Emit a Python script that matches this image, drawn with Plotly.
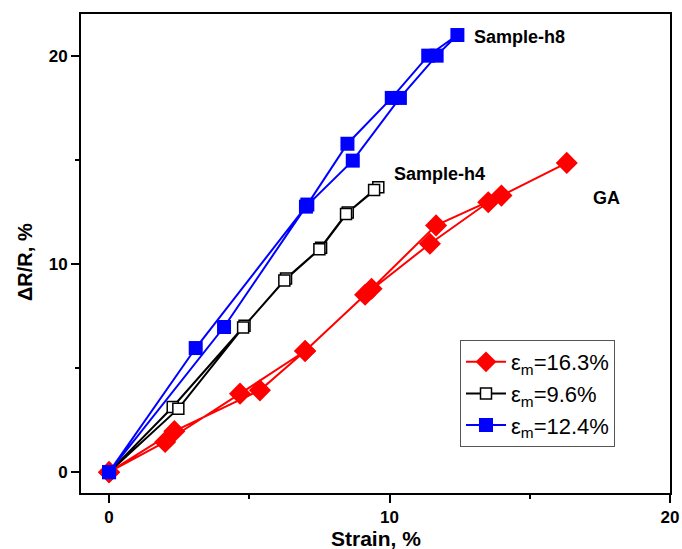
import plotly.graph_objects as go

# Red: GA, eps_m = 16.3 %
strain_red = [0, 2.0, 4.67, 6.99, 9.13, 11.44, 13.52, 16.32, 13.99, 11.66, 9.36, 6.99, 5.38, 2.33, 0]
dr_red = [0, 1.45, 3.77, 5.82, 8.52, 10.97, 12.96, 14.85, 13.28, 11.85, 8.81, 5.82, 3.93, 1.97, 0]

# Black: Sample-h4, eps_m = 9.6 %
strain_black = [0, 2.27, 4.83, 6.31, 7.56, 8.51, 9.6, 9.45, 8.45, 7.5, 6.25, 4.78, 2.47, 0]
dr_black = [0, 3.13, 7.03, 9.3, 10.78, 12.47, 13.68, 13.55, 12.4, 10.7, 9.2, 6.95, 3.05, 0]

# Blue: Sample-h8, eps_m = 12.4 %
strain_blue = [0, 3.09, 7.07, 8.5, 10.08, 11.38, 12.42, 11.68, 10.37, 8.69, 7.02, 4.1, 0]
dr_blue = [0, 5.96, 12.85, 15.77, 17.97, 20.0, 20.99, 20.0, 17.97, 14.96, 12.75, 6.97, 0]

names = ["ε<sub>m</sub>=16.3%", "ε<sub>m</sub>=9.6%", "ε<sub>m</sub>=12.4%"]
x_ticks = [0, 10, 20]
y_ticks = [0, 10, 20]
labels = ["Sample-h8", "Sample-h4", "GA"]

FONT = "Arial, Liberation Sans, sans-serif"

fig = go.Figure()
fig.add_trace(go.Scatter(
    x=strain_red, y=dr_red, mode="lines+markers", name=names[0],
    line=dict(color="#ff0000", width=2),
    marker=dict(symbol="diamond", size=17, color="#ff0000"),
))
fig.add_trace(go.Scatter(
    x=strain_black, y=dr_black, mode="lines+markers", name=names[1],
    line=dict(color="#000000", width=2),
    marker=dict(symbol="square", size=11, color="white", line=dict(color="#000000", width=1.5)),
))
fig.add_trace(go.Scatter(
    x=strain_blue, y=dr_blue, mode="lines+markers", name=names[2],
    line=dict(color="#0000ff", width=2),
    marker=dict(symbol="square", size=14, color="#0000ff"),
))

axis_common = dict(
    showline=True, linecolor="black", linewidth=2, mirror=True,
    ticks="outside", ticklen=8, tickwidth=2, tickcolor="black",
    showgrid=False, zeroline=False, automargin=False,
    tickfont=dict(family=FONT, size=17, color="black", weight="bold"),
    minor=dict(ticks="outside", ticklen=4, tickwidth=2, tickcolor="black", dtick=5, showgrid=False),
)

fig.update_xaxes(range=[-1, 20], tickvals=x_ticks, ticktext=[str(v) for v in x_ticks], **axis_common)
fig.update_yaxes(range=[-1, 22], tickvals=y_ticks, ticktext=[str(v) for v in y_ticks], **axis_common)

L, R, T, B = 81, 670, 14, 493

def px(xp):
    return (xp - L) / (R - L)

def py(yp):
    return (B - yp) / (B - T)

label_pos = [(472, 37), (392, 174), (591, 198)]
anns = []
for text, (xp, yp) in zip(labels, label_pos):
    anns.append(dict(
        text=text, x=px(xp), y=py(yp),
        xref="paper", yref="paper", xanchor="left", yanchor="middle", showarrow=False,
        font=dict(family=FONT, size=18, color="black", weight="bold"),
    ))
anns.append(dict(
    text="Strain, %", x=0.5, y=py(538), xref="paper", yref="paper",
    xanchor="center", yanchor="middle", showarrow=False,
    font=dict(family=FONT, size=21, color="black", weight="bold"),
))
anns.append(dict(
    text="ΔR/R, %", x=px(25), y=py(262), xref="paper", yref="paper",
    xanchor="center", yanchor="middle", showarrow=False, textangle=-90,
    font=dict(family=FONT, size=20, color="black", weight="bold"),
))

fig.update_layout(
    width=682, height=549,
    margin=dict(l=L, r=682 - R, t=T, b=549 - B, autoexpand=False),
    paper_bgcolor="white", plot_bgcolor="white",
    showlegend=True,
    legend=dict(
        x=px(460), y=py(340), xanchor="left", yanchor="top",
        bordercolor="#555555", borderwidth=1, bgcolor="white",
        font=dict(family=FONT, size=22, color="black"),
        tracegroupgap=0, itemwidth=40,
    ),
    annotations=anns,
)

fig.write_html("out.html")
